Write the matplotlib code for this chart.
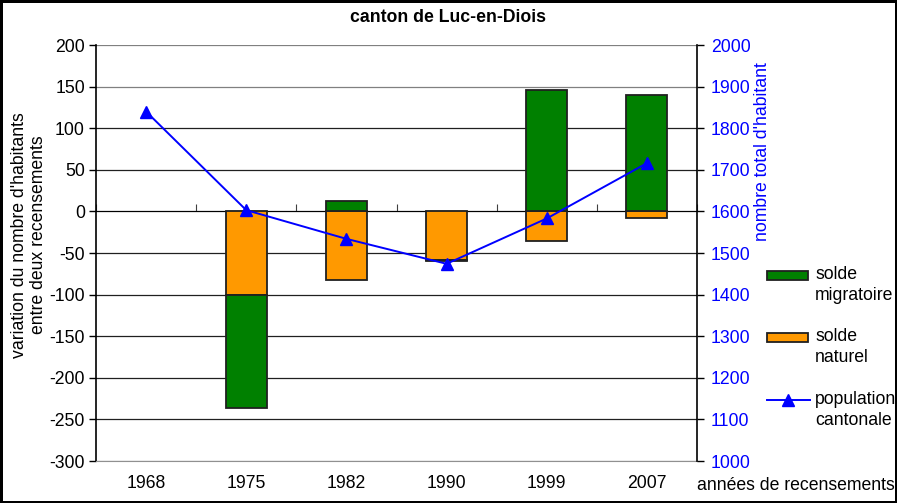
import numpy as np
import matplotlib
matplotlib.use("Agg")
import matplotlib.pyplot as plt
from matplotlib.patches import Rectangle
from matplotlib.lines import Line2D

plt.rcParams['font.family'] = ['Liberation Sans', 'DejaVu Sans']
plt.rcParams['font.size'] = 12.7
plt.rcParams['axes.unicode_minus'] = False

# Census years and data
years = ["1968", "1975", "1982", "1990", "1999", "2007"]
solde_naturel = [0, -100, -82, -58, -35, -8]
solde_migratoire = [0, -136, 13, -2, 146, 140]
population = [1840, 1603, 1534, 1474, 1583, 1716]

GREEN = "#008000"
ORANGE = "#FF9900"
BLUE = "#0000FF"

W, H = 897, 503
fig = plt.figure(figsize=(W / 100, H / 100), dpi=100)
fig.patch.set_edgecolor("black")
fig.patch.set_linewidth(2.5)


def fx(px):
    return px / W


def fy(py):
    return 1 - py / H


left, right, top, bottom = 96, 697, 45, 461
ax = fig.add_axes([fx(left), fy(bottom), (right - left) / W, (bottom - top) / H])

x = np.arange(len(years))
ax.set_xlim(-0.5, len(years) - 0.5)
ax.set_ylim(-300, 200)

# horizontal gridlines
yt = np.arange(-300, 201, 50)
for v in yt:
    ax.axhline(v, color="#808080" if v in (200, 150, 0, -300) else "#202020",
               lw=0.9, zorder=0)

# stacked bars: positive parts above zero, negative parts below
pos = np.zeros(len(years))
neg = np.zeros(len(years))
bw = 0.41
for vals, col in [(solde_naturel, ORANGE), (solde_migratoire, GREEN)]:
    vals = np.asarray(vals, dtype=float)
    base = np.where(vals >= 0, pos, neg)
    mask = vals != 0
    ax.bar(x[mask], vals[mask], bottom=base[mask], width=bw, color=col,
           edgecolor="#202020", linewidth=1.3, zorder=2)
    pos = np.where(vals >= 0, pos + vals, pos)
    neg = np.where(vals < 0, neg + vals, neg)

ax.set_yticks(yt)
ax.set_xticks(x)
ax.set_xticklabels(years)
ax.tick_params(axis="x", length=0, pad=10)
ax.tick_params(axis="y", direction="out", length=5, width=1, pad=3)
for s in ["top", "right"]:
    ax.spines[s].set_visible(False)
ax.spines["bottom"].set_color("#909090")
ax.spines["left"].set_linewidth(1.2)

# category axis crossing at zero with boundary ticks
sec = ax.secondary_xaxis(0.6)
sec.set_xticks(np.arange(-0.5, len(years), 1.0))
sec.set_xticklabels([])
sec.tick_params(axis="x", direction="out", length=5, color="#404040")
sec.spines["bottom"].set_visible(False)

fig.text(fx(29), fy(235), "variation du nombre d'habitants\nentre deux recensements",
         rotation=90, ha="center", va="center", multialignment="center",
         linespacing=1.2)

# population on secondary y axis
ax2 = ax.twinx()
ax2.set_ylim(1000, 2000)
ax2.set_yticks(np.arange(1000, 2001, 100))
ax2.plot(x, population, color=BLUE, lw=1.4, marker="^", markersize=8, zorder=5)
ax2.tick_params(axis="y", colors="black", labelcolor=BLUE, direction="out",
                length=5, width=1, pad=5)
for s in ["top", "left", "bottom"]:
    ax2.spines[s].set_visible(False)
ax2.spines["right"].set_linewidth(1.2)
fig.text(fx(762), fy(152), "nombre total d'habitant", color=BLUE,
         rotation=90, ha="center", va="center")

fig.text(fx(448), fy(18), "canton de Luc-en-Diois", ha="center",
         va="center", fontweight="bold")
fig.text(fx(796), fy(486), "années de recensements", ha="center",
         va="center")

# legend, each key aligned with the first line of its label
legend_items = [
    ("patch", GREEN, "solde\nmigratoire", 275),
    ("patch", ORANGE, "solde\nnaturel", 337),
    ("line", BLUE, "population\ncantonale", 400),
]
for kind, col, label, yc in legend_items:
    if kind == "patch":
        fig.patches.append(Rectangle((fx(767), fy(yc + 4.5)), 41 / W, 9 / H,
                                     transform=fig.transFigure, facecolor=col,
                                     edgecolor="#202020", linewidth=1.3))
    else:
        fig.lines.append(Line2D([fx(767), fx(810)], [fy(yc), fy(yc)],
                                transform=fig.transFigure, color=col, lw=1.4))
        fig.lines.append(Line2D([fx(788)], [fy(yc)], transform=fig.transFigure,
                                color=col, marker="^", markersize=8))
    fig.text(fx(815), fy(yc - 9), label, ha="left", va="top", linespacing=1.3)

fig.savefig("out.png", dpi=100)
